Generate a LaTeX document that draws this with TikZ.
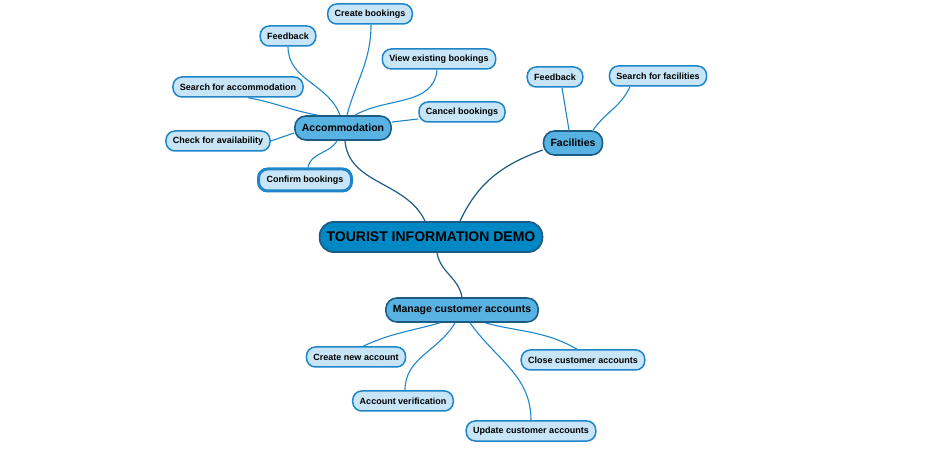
\documentclass[tikz,border=0pt]{standalone}
\usepackage{fontspec}
\setmainfont{Liberation Sans}
\usetikzlibrary{positioning}

\definecolor{rootfill}{RGB}{0,136,196}
\definecolor{topicfill}{RGB}{88,178,226}
\definecolor{leaffill}{RGB}{199,229,247}
\definecolor{leafline}{RGB}{30,134,200}
\definecolor{darkline}{RGB}{28,92,132}

\begin{document}
\begin{tikzpicture}[
	x=1pt, y=1pt,
	root/.style={
		draw=darkline,
		line width=1.8pt,
		fill=rootfill,
		rounded corners=14pt,
		minimum height=30pt,
		inner xsep=7pt,
		font=\fontsize{14}{16}\selectfont\bfseries
	},
	topic/.style={
		draw=darkline,
		line width=1.6pt,
		fill=topicfill,
		rounded corners=11pt,
		minimum height=24pt,
		inner xsep=7pt,
		font=\fontsize{10.5}{12}\selectfont\bfseries
	},
	leaf/.style={
		draw=leafline,
		line width=1.5pt,
		fill=leaffill,
		rounded corners=9pt,
		minimum height=20pt,
		inner xsep=7pt,
		font=\fontsize{9}{11}\selectfont\bfseries
	},
	link/.style={leafline,line width=1.1pt},
	trunk/.style={darkline,line width=1.2pt}
	]
	
	\useasboundingbox (0,0) rectangle (944,452);
	
	% main branches
	\node[root] (root) at (431,215) {TOURIST INFORMATION DEMO};
	\node[topic] (acc) at (343,324) {Accommodation};
	\node[topic] (fac) at (573,309) {Facilities};
	\node[topic] (mng) at (462,142) {Manage customer accounts};
	
	% accommodation
	\node[leaf] (create) at (370,438) {Create bookings};
	\node[leaf] (fbA) at (288,416) {Feedback};
	\node[leaf] (view) at (439,393) {View existing bookings};
	\node[leaf] (searchA) at (238,365) {Search for accommodation};
	\node[leaf] (cancel) at (462,340) {Cancel bookings};
	\node[leaf] (check) at (218,311) {Check for availability};
	\node[leaf,line width=3pt,minimum height=22pt,inner xsep=8pt] (confirm) at (305,272) {Confirm bookings};
	
	% facilities
	\node[leaf] (fbF) at (555,375) {Feedback};
	\node[leaf] (searchF) at (658,376) {Search for facilities};
	
	% customer accounts
	\node[leaf] (newacc) at (356,95) {Create new account};
	\node[leaf] (verify) at (403,51) {Account verification};
	\node[leaf] (closeacc) at (583,92) {Close customer accounts};
	\node[leaf] (update) at (531,21) {Update customer accounts};
	
	\draw[trunk] ([xshift=2pt]acc.south) to[out=-85,in=115] ([xshift=-6pt]root.north);
	\draw[trunk] ([xshift=29pt]root.north) to[out=65,in=200] ([yshift=-7pt]fac.west);
	\draw[trunk] ([xshift=6pt]root.south) to[out=-80,in=100] (mng.north);
	
	\draw[link] (fbA.south) to[out=-90,in=110] ([xshift=-3pt]acc.north);
	\draw[link] ([xshift=1pt]create.south) to[out=-90,in=75] ([xshift=4pt]acc.north);
	\draw[link] ([xshift=-2pt]view.south) to[out=-95,in=30] ([xshift=12pt]acc.north);
	\draw[link] ([xshift=10pt]searchA.south) to[out=-10,in=170] ([xshift=-25pt]acc.north);
	\draw[link] ([yshift=-7pt]cancel.west) -- ([yshift=6pt]acc.east);
	\draw[link] (check.east) -- ([yshift=-5pt]acc.west);
	\draw[link] ([xshift=3pt]confirm.north) to[out=80,in=-120] ([xshift=-6pt]acc.south);
	
	\draw[link] ([xshift=-4pt]fac.north) -- ([xshift=7pt]fbF.south);
	\draw[link] ([xshift=20pt]fac.north) to[out=55,in=-115] ([xshift=-28pt]searchF.south);
	
	\draw[link] ([xshift=-22pt]mng.south) to[out=-164,in=25] ([xshift=7pt]newacc.north);
	\draw[link] ([xshift=-7pt]mng.south) to[out=-120,in=90] ([xshift=2pt]verify.north);
	\draw[link] ([xshift=8pt]mng.south) to[out=-55,in=90] (update.north);
	\draw[link] ([xshift=23pt]mng.south) to[out=-15,in=150] ([xshift=-6pt]closeacc.north);
	
\end{tikzpicture}
\end{document}
